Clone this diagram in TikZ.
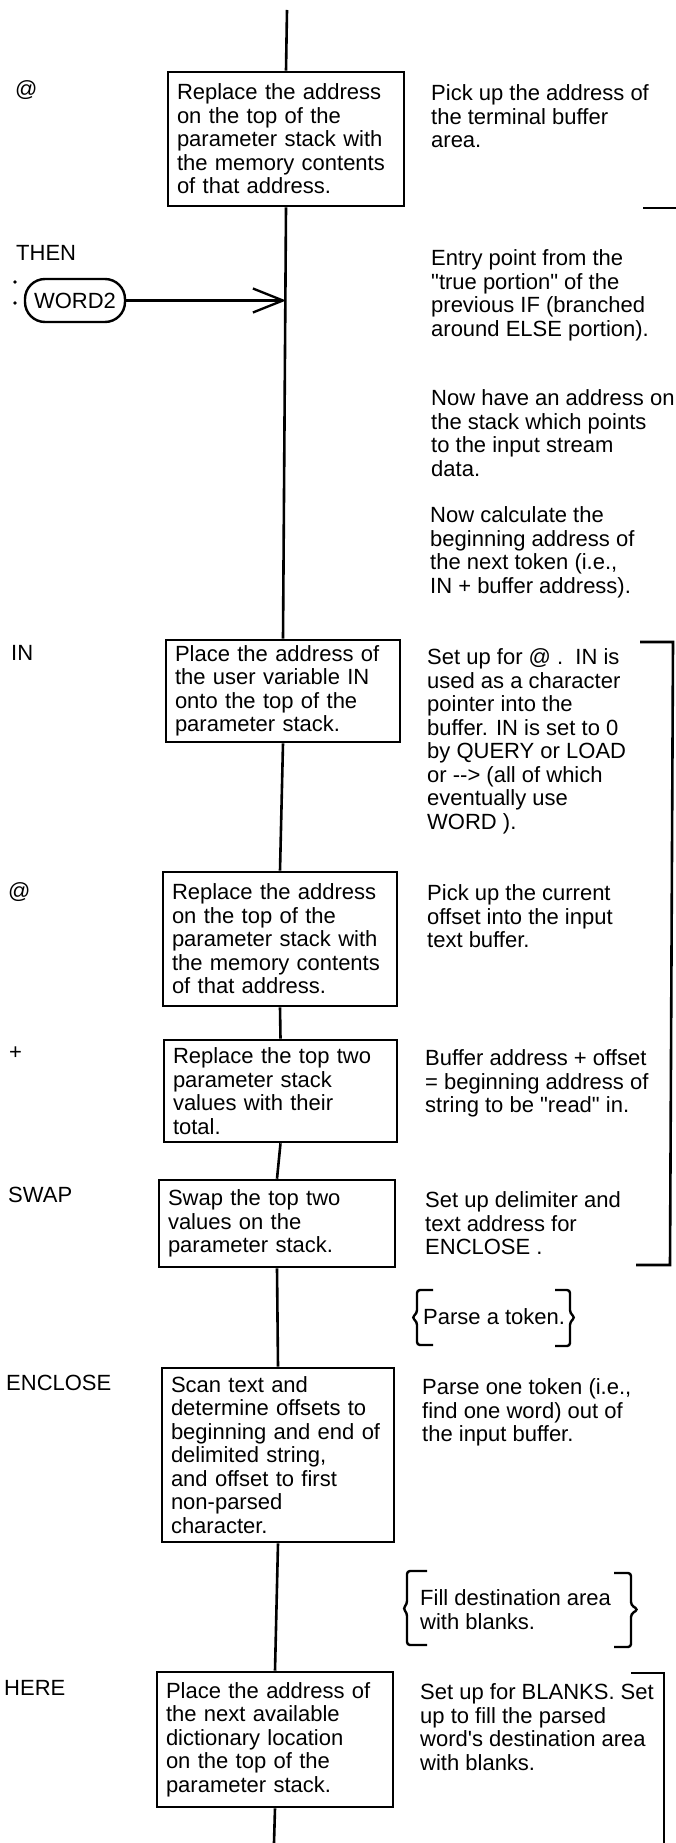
\documentclass[tikz,border=0pt]{standalone}
\usepackage{fontspec}
\setmainfont{Liberation Sans}
\usetikzlibrary{arrows.meta}
\begin{document}
\begin{tikzpicture}[x=1pt,y=-1pt,
  every node/.style={font=\fontsize{22}{23.5}\selectfont},
  stepbox/.style={draw, line width=2.6pt, inner xsep=9pt, inner ysep=0pt, align=left, anchor=center},
  lbl/.style={anchor=west, inner sep=0pt},
  note/.style={anchor=north west, inner sep=0pt, align=left},
  flow/.style={line width=2.6pt},
  brace/.style={line width=2.4pt, rounded corners=3pt},
  entry/.style={draw, line width=2.4pt, rounded corners=20pt, minimum width=100pt, minimum height=43pt, inner sep=0pt},
  dot/.style={fill=black}
  ]
\useasboundingbox (0,0) rectangle (676,1843);
\fill[white] (0,0) rectangle (676,1843);

% step boxes
\node[stepbox, minimum height=134pt, text width=218pt] (b1) at (286,139)
  {Replace the address\\on the top of the\\parameter stack with\\the memory contents\\of that address.};
\node[stepbox, minimum height=102pt, text width=216pt] (bIN) at (283,691)
  {Place the address of\\the user variable IN\\onto the top of the\\parameter stack.};
\node[stepbox, minimum height=134pt, text width=216pt] (bAt) at (280,939)
  {Replace the address\\on the top of the\\parameter stack with\\the memory contents\\of that address.};
\node[stepbox, minimum height=102pt, text width=215pt] (bPlus) at (280.5,1091)
  {Replace the top two\\parameter stack\\values with their\\total.};
\node[stepbox, minimum height=87pt, text width=218pt] (bSwap) at (277,1223.5)
  {Swap the top two\\values on the\\parameter stack.};
\node[stepbox, minimum height=174pt, text width=214pt] (bEncl) at (278,1455)
  {Scan text and\\determine offsets to\\beginning and end of\\delimited string,\\and offset to first\\non-parsed\\character.};
\node[stepbox, minimum height=135pt, text width=218pt] (bHere) at (275,1739.5)
  {Place the address of\\the next available\\dictionary location\\on the top of the\\parameter stack.};

% left labels
\node[lbl] (l1) at (15,90) {@};
\node[lbl] (l2) at (16,253) {THEN};
\node[lbl] (l3) at (11,653) {IN};
\node[lbl] (l4) at (8,892) {@};
\node[lbl] (l5) at (9,1053) {+};
\node[lbl] (l6) at (8,1195) {SWAP};
\node[lbl] (l7) at (6,1383) {ENCLOSE};
\node[lbl] (l8) at (4,1688) {HERE};

% right notes
\node[note] (n1) at (431,84.5) {Pick up the address of\\the terminal buffer\\area.};
\node[note] (n2) at (431,249.5) {Entry point from the\\\textquotedbl true portion\textquotedbl{} of the\\previous IF (branched\\around ELSE portion).};
\node[note] (n3) at (431,389.5) {Now have an address on\\the stack which points\\to the input stream\\data.};
\node[note] (n4) at (430,506.5) {Now calculate the\\beginning address of\\the next token (i.e.,\\IN + buffer address).};
\node[note] (n5) at (427,648.5) {Set up for @ .\ \ IN is\\used as a character\\pointer into the\\buffer. IN is set to 0\\by QUERY or LOAD\\or -\kern0pt-\kern0pt> (all of which\\eventually use\\WORD ).};
\node[note] (n6) at (427,884.5) {Pick up the current\\offset into the input\\text buffer.};
\node[note] (n7) at (425,1049.5) {Buffer address + offset\\= beginning address of\\string to be \textquotedbl read\textquotedbl{} in.};
\node[note] (n8) at (425,1191.5) {Set up delimiter and\\text address for\\ENCLOSE .};
\node[note] (n9) at (422,1378.5) {Parse one token (i.e.,\\find one word) out of\\the input buffer.};
\node[note] (n10) at (420,1683.5) {Set up for BLANKS. Set\\up to fill the parsed\\word\textquotesingle s destination area\\with blanks.};

% braced notes
\node[lbl] (pt) at (423,1317) {Parse a token.};
\node[note] (fd) at (420,1589.5) {Fill destination area\\with blanks.};
\draw[brace] (433,1290) -- (417,1290) -- (417,1313) -- (412,1317.5) -- (417,1322) -- (417,1345) -- (433,1345);
\draw[brace] (555,1290) -- (570,1290) -- (570,1313) -- (575,1317.5) -- (570,1322) -- (570,1346) -- (555,1346);
\draw[brace] (427,1571) -- (407,1571) -- (407,1604) -- (403,1608.5) -- (407,1613) -- (407,1645) -- (427,1645);
\draw[brace] (614,1573) -- (631,1573) -- (631,1605) -- (638,1609.5) -- (631,1614) -- (631,1647) -- (614,1647);

% entry point WORD2
\node[entry] (w2) at (75,300.5) {WORD2};
\fill[dot] (15,282) circle (1.8);
\fill[dot] (15,303) circle (1.8);

% main flow
\coordinate (top) at (287,10);
\coordinate (bot) at (274,1843);
\draw[flow] (top) -- (b1.north);
\draw[flow] (b1.south) -- (bIN.north);
\draw[flow] (bIN.south) -- (bAt.north);
\draw[flow] (bAt.south) -- (bPlus.north);
\draw[flow] (bPlus.south) -- (bSwap.north);
\draw[flow] (bSwap.south) -- (bEncl.north);
\draw[flow] (bEncl.south) -- (bHere.north);
\draw[flow] (bHere.south) -- (bot);
\draw[line width=2.3pt, -{Straight Barb[length=30pt, width=24pt]}] (w2.east) -- (w2.east -| b1.south);

% right-hand brackets
\draw[flow] (643,208) -- (676,208);
\draw[flow] (640,642) -- (673,642) -- (670,1265) -- (636,1265);
\draw[flow] (631,1673) -- (664,1673) -- (664,1846);
\end{tikzpicture}
\end{document}
